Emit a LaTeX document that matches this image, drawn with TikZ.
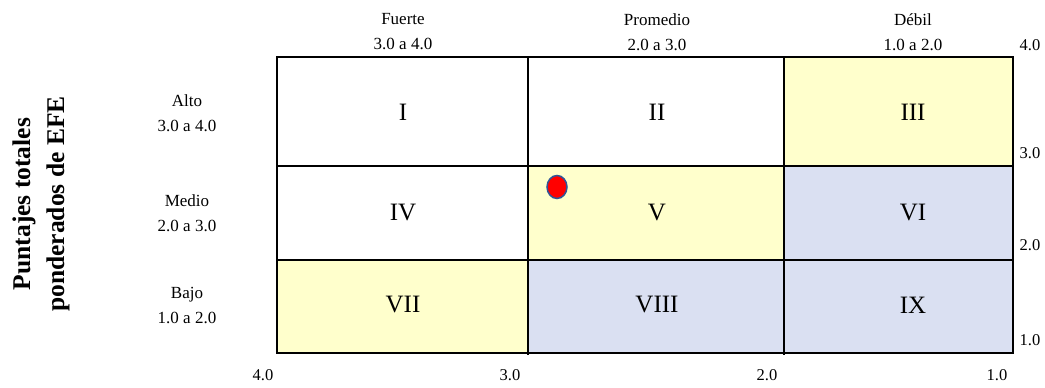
\documentclass[tikz,border=0pt]{standalone}
\usepackage{fontspec}
\setmainfont{Liberation Serif}
\definecolor{amarillo}{HTML}{FFFFCC}
\definecolor{azul}{HTML}{DAE0F2}
\definecolor{borde}{HTML}{2F5597}
\begin{document}
\begin{tikzpicture}[x=1pt, y=1pt,
	celda/.style={font=\fontsize{25}{30}\selectfont},
	etiq/.style={font=\fontsize{17}{25}\selectfont, align=center},
	eje/.style={font=\fontsize{16.5}{19}\selectfont}]
	\useasboundingbox (0,0) rectangle (1045,388);
	
	% colores de las celdas
	\fill[amarillo] (784,222) rectangle (1013,331);
	\fill[amarillo] (528,128) rectangle (784,222);
	\fill[amarillo] (277,35) rectangle (528,128);
	\fill[azul] (784,35) rectangle (1013,222);
	\fill[azul] (528,35) rectangle (784,128);
	
	% rejilla
	\draw[line width=2pt] (277,35) rectangle (1013,331);
	\draw[line width=2pt] (528,33) -- (528,331);
	\draw[line width=2pt] (784,33) -- (784,331);
	\draw[line width=2pt] (277,222) -- (1013,222);
	\draw[line width=2pt] (277,128) -- (1013,128);
	
	\node[celda] (c1) at (403,276){I};
	\node[celda] (c2) at (657,276){II};
	\node[celda] (c3) at (913,276){III};
	\node[celda] (c4) at (403,175){IV};
	\node[celda] (c5) at (657,175){V};
	\node[celda] (c6) at (913,175){VI};
	\node[celda] (c7) at (403,83){VII};
	\node[celda] (c8) at (657,83){VIII};
	\node[celda] (c9) at (913,83){IX};
	
	% EFI arriba
	\node[etiq] (fuerte) at (403,356){Fuerte\\3.0 a 4.0};
	\node[etiq] (promedio) at (657,356){Promedio\\2.0 a 3.0};
	\node[etiq] (debil) at (913,356){Débil\\1.0 a 2.0};
	
	% EFE a la izquierda
	\node[etiq] (alto) at (187,275){Alto\\3.0 a 4.0};
	\node[etiq] (medio) at (187,175){Medio\\2.0 a 3.0};
	\node[etiq] (bajo) at (187,83){Bajo\\1.0 a 2.0};
	\node[font=\bfseries\fontsize{25.5}{34}\selectfont, rotate=90, align=center] (titulo) at (41,184){Puntajes totales\\ponderados de EFE};
	
	% escalas
	\node[eje] (d4) at (1030,343){4.0};
	\node[eje] (d3) at (1030,235){3.0};
	\node[eje] (d2) at (1030,143){2.0};
	\node[eje] (d1) at (1030,48){1.0};
	\node[eje] (a4) at (263,13){4.0};
	\node[eje] (a3) at (510,13){3.0};
	\node[eje] (a2) at (767,13){2.0};
	\node[eje] (a1) at (997,13){1.0};
	
	% posicion de la empresa
	\draw[borde, fill=red, line width=1.5pt] (557,201) ellipse (10 and 11.5);
\end{tikzpicture}
\end{document}
